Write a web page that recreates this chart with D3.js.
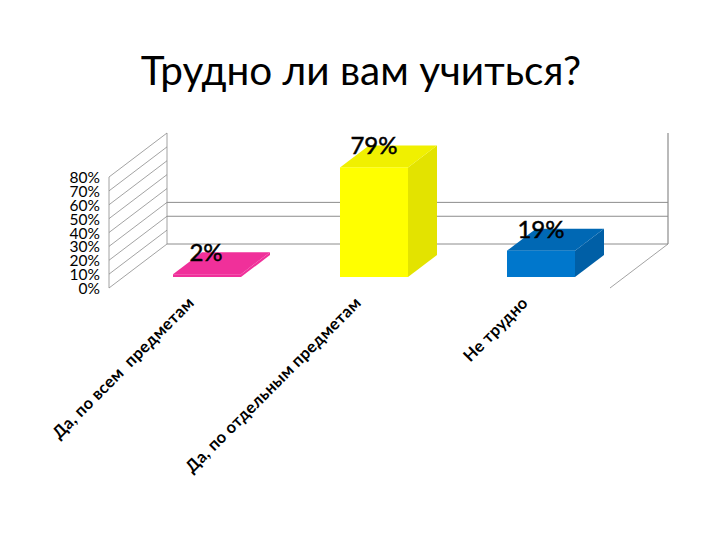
<!DOCTYPE html>
<html><head><meta charset="utf-8">
<script src="https://cdn.jsdelivr.net/npm/d3@7"></script>
<style>html,body{margin:0;background:#fff}svg{display:block}text{font-family:Lato,Carlito,"Open Sans",sans-serif;fill:#000;white-space:pre}</style>
</head><body><svg id="c" width="720" height="540"></svg>
<script>
const titleText = "Трудно ли вам учиться?";
const categories = ["Да, по всем  предметам","Да, по отдельным предметам","Не трудно"];
const values = [2,79,19];
const valueLabels = ["2%","79%","19%"];
const tickValues = [0,10,20,30,40,50,60,70,80];
const backGridValues = [20,30];
const frontColors = ["#F0309A","#FFFF00","#0077CC"];
const topColors = ["#F0309A","#F0F000","#0068B4"];
const sideColors = ["#F0309A","#E3E300","#005FA6"];

const svg = d3.select("#c");
const depth = {x:58, y:-44};
const y = d3.scaleLinear().domain([0,80]).range([288,177]);
const plotLeft = 109, plotRight = 610;
const x = d3.scaleBand().domain(categories).range([plotLeft+depth.x/4, plotRight+depth.x/4]);
const barW = 68, bd = {x:depth.x/2, y:depth.y/2};
const h = v => y(0)-y(v);
const grey = "#8c8c8c";

svg.append("text").attr("x",361).attr("y",85).attr("text-anchor","middle")
  .style("font-size","40.5px").text(titleText);

const g = svg.append("g");
// side wall grid
g.selectAll(".w").data(tickValues).join("line").attr("stroke",grey).attr("stroke-width",.8)
  .attr("x1",plotLeft).attr("y1",d=>y(d)).attr("x2",plotLeft+depth.x).attr("y2",d=>y(d)+depth.y);
// verticals
g.append("line").attr("x1",plotLeft).attr("x2",plotLeft).attr("y1",y(0)).attr("y2",y(80)).attr("stroke",grey).attr("stroke-width",.8);
g.append("line").attr("x1",plotLeft+depth.x).attr("x2",plotLeft+depth.x).attr("y1",y(0)+depth.y).attr("y2",y(80)+depth.y).attr("stroke",grey).attr("stroke-width",.8);
g.append("line").attr("x1",plotRight+depth.x).attr("x2",plotRight+depth.x).attr("y1",y(0)+depth.y).attr("y2",y(80)+depth.y).attr("stroke",grey).attr("stroke-width",1.2);
// back wall
g.selectAll(".b").data([0].concat(backGridValues)).join("line").attr("stroke",grey).attr("stroke-width",1)
  .attr("x1",plotLeft+depth.x).attr("x2",plotRight+depth.x).attr("y1",d=>y(d)+depth.y).attr("y2",d=>y(d)+depth.y);
// floor right edge
g.append("line").attr("x1",plotRight).attr("y1",y(0)).attr("x2",plotRight+depth.x).attr("y2",y(0)+depth.y).attr("stroke",grey).attr("stroke-width",.8);

// y axis
const ax = svg.append("g").attr("transform",`translate(${plotLeft-9},0)`)
  .call(d3.axisLeft(y).tickValues(tickValues).tickSize(0).tickPadding(0).tickFormat(d=>d+"%"));
ax.select(".domain").remove();
ax.selectAll("text").style("font-size","15.5px").style("font-family","Lato,Carlito,sans-serif").attr("fill","#000").attr("dy","0.36em");

// bars
const bars = svg.append("g").selectAll("g").data(values).join("g");
const bx = i => x(categories[i]) + (x.bandwidth()-barW)/2;
const by = y(0)+depth.y/4;
const pts = a => a.map(p=>p.join(",")).join(" ");
bars.append("polygon").attr("fill",(d,i)=>sideColors[i]).attr("points",(d,i)=>{
  const r=bx(i)+barW,t=by-h(d);
  return pts([[r,by],[r+bd.x,by+bd.y],[r+bd.x,t+bd.y],[r,t]]);});
bars.append("polygon").attr("fill",(d,i)=>topColors[i]).attr("points",(d,i)=>{
  const l=bx(i),t=by-h(d);
  return pts([[l,t],[l+barW,t],[l+barW+bd.x,t+bd.y],[l+bd.x,t+bd.y]]);});
bars.append("rect").attr("fill",(d,i)=>frontColors[i])
  .attr("x",(d,i)=>bx(i)).attr("width",barW).attr("y",d=>by-h(d)).attr("height",d=>h(d));
bars.append("text").attr("text-anchor","middle").style("font-size","24px")
  .attr("stroke","#000").attr("stroke-width",.5)
  .attr("x",(d,i)=>bx(i)+barW/2+(i?0:-1)).attr("y",d=>by-h(d)-13).text((d,i)=>valueLabels[i]);

// category labels
svg.append("g").selectAll("text").data(categories).join("text")
  .attr("text-anchor","end").style("font-size","16.5px").style("font-weight","700").style("letter-spacing","0.35px")
  .attr("transform",(d,i)=>`translate(${x(d)+x.bandwidth()/2-12},304) rotate(-45)`)
  .text(d=>d);
</script></body></html>
